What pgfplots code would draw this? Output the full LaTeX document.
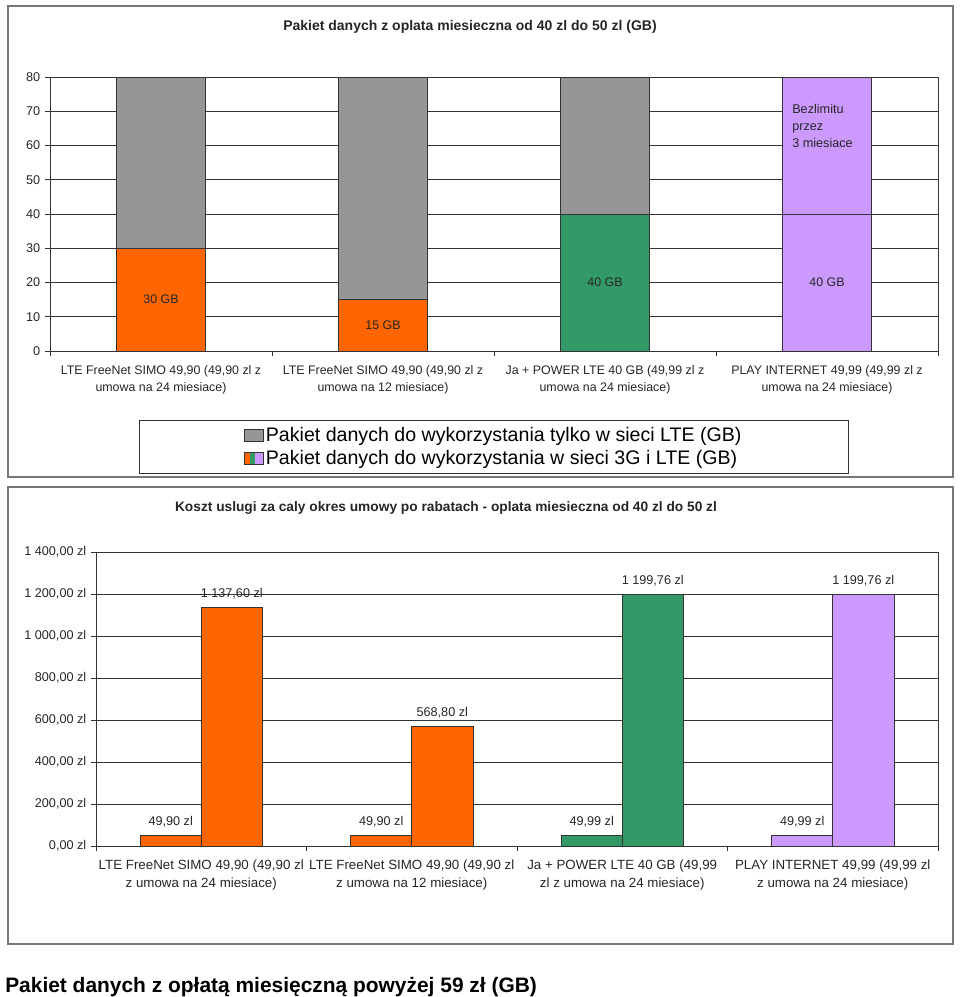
\documentclass[border=0pt]{standalone}
\usepackage{fontspec}
\setmainfont{Liberation Sans}
\usepackage{pgfplots}
\pgfplotsset{compat=1.18}

\definecolor{lteonly}{HTML}{969696}
\definecolor{orangebar}{HTML}{FF6600}
\definecolor{greenbar}{HTML}{339966}
\definecolor{lilacbar}{HTML}{CC99FF}
\definecolor{gridc}{HTML}{333333}
\definecolor{framec}{HTML}{777777}
\definecolor{txt}{HTML}{262626}

% common look of both Excel-style panels
\pgfplotsset{
  excel/.style={
    scale only axis,
    anchor=south west,
    xmin=-0.5, xmax=3.5,
    xtick={-0.5,0.5,1.5,2.5,3.5}, xticklabels={},
    extra x ticks={0,1,2,3},
    extra x tick style={major tick length=0pt},
    xticklabel style={align=center, text=txt},
    yticklabel style={font=\fontsize{9.5}{11}\selectfont, text=txt},
    ymajorgrids, grid style={gridc, line width=0.6pt},
    axis line style={gridc, line width=0.6pt},
    tick style={gridc, line width=0.6pt},
    tick align=outside, tick pos=left, major tick length=3.75pt,
    /pgf/number format/assume math mode=true,
  },
}

\begin{document}
\begin{tikzpicture}
\path[use as bounding box] (0pt,0pt) rectangle (720pt,-747.75pt);

% panel frames
\draw[framec, line width=1.2pt] (6pt,-4.5pt) rectangle (714.75pt,-357.75pt);
\draw[framec, line width=1.2pt] (6pt,-365.25pt) rectangle (714.75pt,-708pt);

% titles
\node[font=\bfseries\fontsize{10.5}{12}\selectfont, text=txt] at (352.5pt,-20.25pt)
  {Pakiet danych z oplata miesieczna od 40 zl do 50 zl (GB)};
\node[font=\bfseries\fontsize{10.3}{12}\selectfont, text=txt] at (334.5pt,-381pt)
  {Koszt uslugi za caly okres umowy po rabatach - oplata miesieczna od 40 zl do 50 zl};
\node[anchor=west, inner sep=0pt, font=\bfseries\fontsize{15.7}{18}\selectfont] at (3.75pt,-740pt)
  {Pakiet danych z opłatą miesięczną powyżej 59 zł (GB)};

% ---------- top: data volume (GB), stacked ----------
\begin{axis}[
  excel,
  at={(37.5pt,-263.25pt)}, width=666pt, height=205.5pt,
  ybar stacked, bar width=0.4,
  ymin=0, ymax=80, ytick={0,10,...,80},
  extra x tick labels={
    {LTE FreeNet SIMO 49,90 (49,90 zl z\\umowa na 24 miesiace)},
    {LTE FreeNet SIMO 49,90 (49,90 zl z\\umowa na 12 miesiace)},
    {Ja + POWER LTE 40 GB (49,99 zl z\\umowa na 24 miesiace)},
    {PLAY INTERNET 49,99 (49,99 zl z\\umowa na 24 miesiace)}},
  xticklabel style={font=\fontsize{9.3}{12.75}\selectfont, yshift=-7.5pt},
  legend style={at={(0.5,0)}, anchor=north, yshift=-51.75pt,
    draw=gridc, line width=0.6pt, inner xsep=78pt, inner ysep=3pt, row sep=1.5pt,
    font=\fontsize{14.7}{17}\selectfont, cells={anchor=west}},
]
\addplot[fill=orangebar, draw=gridc, forget plot] coordinates {(0,30) (1,15) (2,0) (3,0)};
\addplot[fill=greenbar, draw=gridc, forget plot] coordinates {(0,0) (1,0) (2,40) (3,0)};
\addplot[fill=lilacbar, draw=gridc, forget plot] coordinates {(0,0) (1,0) (2,0) (3,40)};
\addplot[fill=lteonly, draw=gridc, forget plot] coordinates {(0,50) (1,65) (2,40) (3,0)};
\addplot[fill=lilacbar, draw=gridc, forget plot] coordinates {(0,0) (1,0) (2,0) (3,40)};
\addlegendimage{legend image code/.code={
  \draw[draw=gridc, line width=0.5pt, fill=lteonly] (0pt,-4.5pt) rectangle (14pt,4.5pt);}}
\addlegendentry{Pakiet danych do wykorzystania tylko w sieci LTE (GB)}
\addlegendimage{legend image code/.code={
  \fill[orangebar] (0pt,-4.5pt) rectangle (4.7pt,4.5pt);
  \fill[greenbar] (4.7pt,-4.5pt) rectangle (8.4pt,4.5pt);
  \fill[lilacbar] (8.4pt,-4.5pt) rectangle (14pt,4.5pt);
  \draw[gridc, line width=0.5pt] (0pt,-4.5pt) rectangle (14pt,4.5pt);}}
\addlegendentry{Pakiet danych do wykorzystania w sieci 3G i LTE (GB)}
\end{axis}

% labels inside the stacked bars
\begin{axis}[
  scale only axis, anchor=south west,
  at={(37.5pt,-263.25pt)}, width=666pt, height=205.5pt,
  xmin=-0.5, xmax=3.5, ymin=0, ymax=80, hide axis, clip=false,
]
\addplot[draw=none, mark=none, nodes near coords, point meta=explicit symbolic,
  every node near coord/.append style={anchor=center, text=txt, font=\fontsize{9.3}{11}\selectfont}]
  coordinates {(0,15)[30 GB] (1,7.5)[15 GB] (2,20)[40 GB] (3,20)[40 GB]};
\addplot[draw=none, mark=none, nodes near coords, point meta=explicit symbolic,
  every node near coord/.append style={anchor=north west, align=left, inner sep=0pt,
    xshift=-26.25pt, text=txt, font=\fontsize{9.5}{12.75}\selectfont}]
  coordinates {(3,72)[{Bezlimitu\\przez\\3 miesiace}]};
\end{axis}

% ---------- bottom: total cost ----------
\begin{axis}[
  excel,
  at={(72pt,-634.5pt)}, width=631.5pt, height=220.5pt,
  ybar, bar width=0.29,
  ymin=0, ymax=1400, ytick={0,200,...,1400},
  yticklabels={{0,00 zl},{200,00 zl},{400,00 zl},{600,00 zl},{800,00 zl},{1 000,00 zl},{1 200,00 zl},{1 400,00 zl}},
  extra x tick labels={
    {LTE FreeNet SIMO 49,90 (49,90 zl\\z umowa na 24 miesiace)},
    {LTE FreeNet SIMO 49,90 (49,90 zl\\z umowa na 12 miesiace)},
    {Ja + POWER LTE 40 GB (49,99\\zl z umowa na 24 miesiace)},
    {PLAY INTERNET 49,99 (49,99 zl\\z umowa na 24 miesiace)}},
  xticklabel style={font=\fontsize{10}{13.5}\selectfont, yshift=-6.75pt},
  nodes near coords, point meta=explicit symbolic,
  every node near coord/.append style={font=\fontsize{9.5}{11}\selectfont, text=txt, yshift=2.5pt},
]
\addplot[fill=orangebar, draw=gridc, bar shift=-0.145] coordinates {(0,49.90)[49,90 zl] (1,49.90)[49,90 zl]};
\addplot[fill=orangebar, draw=gridc, bar shift=0.145] coordinates {(0,1137.60)[1 137,60 zl] (1,568.80)[568,80 zl]};
\addplot[fill=greenbar, draw=gridc, bar shift=-0.145] coordinates {(2,49.99)[49,99 zl]};
\addplot[fill=greenbar, draw=gridc, bar shift=0.145] coordinates {(2,1199.76)[1 199,76 zl]};
\addplot[fill=lilacbar, draw=gridc, bar shift=-0.145] coordinates {(3,49.99)[49,99 zl]};
\addplot[fill=lilacbar, draw=gridc, bar shift=0.145] coordinates {(3,1199.76)[1 199,76 zl]};
\end{axis}
\end{tikzpicture}
\end{document}
